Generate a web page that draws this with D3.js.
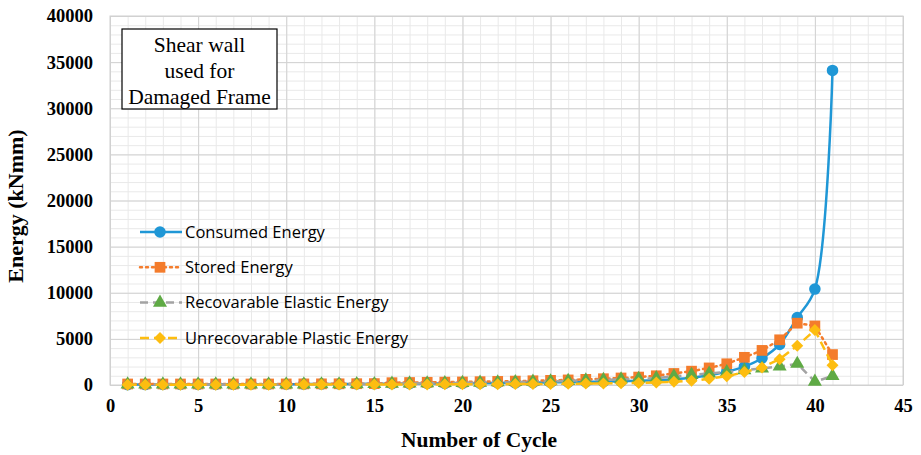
<!DOCTYPE html>
<html>
<head>
<meta charset="utf-8">
<script src="https://cdn.jsdelivr.net/npm/d3@7"></script>
<style>
  body { margin: 0; background: #fff; }
  #chart { width: 921px; height: 455px; }
</style>
</head>
<body>
<div id="chart"></div>
<script>
// values
const cycles = d3.range(1, 42);
const consumed = [40, 50, 55, 60, 65, 70, 75, 80, 85, 90, 95, 100, 110, 120, 130, 140, 150, 160, 170, 180,
  200, 220, 240, 260, 280, 300, 330, 360, 400, 450, 520, 620, 780, 1050, 1450, 2000, 2900, 4400, 7300, 10400, 34100];
const stored = [110, 110, 110, 110, 110, 110, 110, 110, 110, 115, 120, 125, 130, 140, 150, 250, 270, 290, 310, 330,
  360, 390, 420, 460, 500, 550, 610, 680, 760, 860, 1000, 1250, 1500, 1850, 2300, 3000, 3750, 4900, 6700, 6400, 3300];
const recoverable = [60, 60, 60, 60, 60, 60, 60, 60, 60, 65, 70, 75, 80, 90, 100, 150, 170, 190, 210, 230,
  260, 290, 320, 360, 400, 450, 500, 560, 620, 680, 750, 950, 1100, 1250, 1400, 1600, 1800, 2000, 2300, 360, 980];
const unrecoverable = [40, 40, 40, 40, 40, 40, 40, 40, 40, 45, 45, 50, 50, 50, 55, 60, 60, 65, 70, 75,
  80, 90, 100, 110, 120, 130, 150, 170, 200, 230, 280, 350, 450, 680, 950, 1400, 1900, 2800, 4250, 5950, 2150];

const xTicks = [0, 5, 10, 15, 20, 25, 30, 35, 40, 45];
const yTicks = [0, 5000, 10000, 15000, 20000, 25000, 30000, 35000, 40000];
const seriesNames = ["Consumed Energy", "Stored Energy", "Recovarable Elastic Energy", "Unrecovarable Plastic Energy"];
const noteLines = ["Shear wall", "used for", "Damaged Frame"];

function renderEnergyChart() {
  const margin = { top: 16, right: 18, bottom: 70, left: 110 },
    width = 921 - margin.left - margin.right,
    height = 455 - margin.top - margin.bottom;

  const svg = d3.select("#chart")
    .append("svg")
    .attr("width", width + margin.left + margin.right)
    .attr("height", height + margin.top + margin.bottom)
    .append("g")
    .attr("transform", `translate(${margin.left},${margin.top})`);

  const x = d3.scaleLinear().domain([0, 45]).range([0, width]);
  const y = d3.scaleLinear().domain([0, 40000]).range([height, 0]);

  // minor grid
  svg.append("g")
    .call(d3.axisLeft(y).tickValues(d3.range(0, 40001, 1000)).tickSize(-width).tickFormat(""))
    .call(g => g.select(".domain").remove())
    .selectAll("line").attr("stroke", "#e9e9e9");
  svg.append("g")
    .attr("transform", `translate(0,${height})`)
    .call(d3.axisBottom(x).tickValues(d3.range(0, 46, 1)).tickSize(-height).tickFormat(""))
    .call(g => g.select(".domain").remove())
    .selectAll("line").attr("stroke", "#e9e9e9");

  // major grid + labels
  const yAxis = svg.append("g")
    .call(d3.axisLeft(y).tickValues(yTicks).tickSize(-width).tickPadding(17).tickFormat(d3.format("d")));
  yAxis.select(".domain").remove();
  yAxis.selectAll("line").attr("stroke", "#d2d2d2");
  const xAxis = svg.append("g")
    .attr("transform", `translate(0,${height})`)
    .call(d3.axisBottom(x).tickValues(xTicks).tickSize(-height).tickPadding(14));
  xAxis.select(".domain").remove();
  xAxis.selectAll("line").attr("stroke", "#d2d2d2");
  [yAxis, xAxis].forEach(a => a.selectAll(".tick text")
    .style("font-family", "'Liberation Serif', 'Times New Roman', serif")
    .style("font-weight", "bold")
    .style("font-size", "18.5px")
    .attr("fill", "#000"));

  svg.append("rect")
    .attr("width", width).attr("height", height)
    .attr("fill", "none").attr("stroke", "#d0d0d0");

  // axis titles
  svg.append("text")
    .attr("transform", `translate(${-95},${190}) rotate(-90)`)
    .attr("text-anchor", "middle")
    .attr("dy", "0.35em")
    .style("font-family", "'Liberation Serif', serif")
    .style("font-weight", "bold").style("font-size", "22px")
    .text("Energy (kNmm)");
  svg.append("text")
    .attr("x", 369).attr("y", height + 62)
    .attr("text-anchor", "middle")
    .style("font-family", "'Liberation Serif', serif")
    .style("font-weight", "bold").style("font-size", "21.5px")
    .text("Number of Cycle");

  const series = [
    { name: seriesNames[0], values: consumed, color: "#1f97d6", dash: null, cap: "butt", curve: d3.curveCatmullRom, marker: "circle", mcolor: "#1f97d6" },
    { name: seriesNames[1], values: stored, color: "#f47c2c", dash: "2,4", cap: "round", curve: d3.curveLinear, marker: "square", mcolor: "#f47c2c" },
    { name: seriesNames[2], values: recoverable, color: "#a3a3a3", dash: "8,5", cap: "butt", curve: d3.curveLinear, marker: "triangle", mcolor: "#5faa45" },
    { name: seriesNames[3], values: unrecoverable, color: "#fdbd10", dash: "9,5", cap: "butt", curve: d3.curveLinear, marker: "diamond", mcolor: "#fdbd10" }
  ];

  const symbolOf = { circle: d3.symbolCircle, square: d3.symbolSquare, triangle: d3.symbolTriangle, diamond: d3.symbolSquare };
  const sizeOf = { circle: 105, square: 115, triangle: 85, diamond: 72 };
  const rot = m => (m === "diamond" ? " rotate(45)" : "");

  series.forEach(s => {
    const line = d3.line().x((d, i) => x(cycles[i])).y(d => y(d)).curve(s.curve);
    svg.append("path")
      .datum(s.values)
      .attr("d", line)
      .attr("fill", "none")
      .attr("stroke", s.color)
      .attr("stroke-width", 2.5)
      .attr("stroke-linecap", s.cap)
      .attr("stroke-dasharray", s.dash);
    svg.selectAll(null)
      .data(s.values)
      .enter()
      .append("path")
      .attr("transform", (d, i) => `translate(${x(cycles[i])},${y(d)})` + rot(s.marker))
      .attr("d", d3.symbol().type(symbolOf[s.marker]).size(sizeOf[s.marker]))
      .attr("fill", s.mcolor);
  });

  // legend
  const legend = svg.append("g").attr("transform", `translate(${30},${216})`);
  series.forEach((s, i) => {
    const g = legend.append("g").attr("transform", `translate(0,${i * 35.3})`);
    g.append("line")
      .attr("x1", 0).attr("x2", 42)
      .attr("stroke", s.color).attr("stroke-width", 2.5)
      .attr("stroke-linecap", s.cap)
      .attr("stroke-dasharray", s.dash);
    g.append("path")
      .attr("transform", "translate(20,0)" + rot(s.marker))
      .attr("d", d3.symbol().type(symbolOf[s.marker]).size(sizeOf[s.marker]))
      .attr("fill", s.mcolor);
    g.append("text")
      .attr("x", 45).attr("y", 0).attr("dy", "0.35em")
      .style("font-family", "'Open Sans', sans-serif")
      .style("font-size", "16.5px")
      .attr("fill", "#000")
      .text(s.name);
  });

  // note box
  const note = svg.append("g").attr("transform", `translate(${12},${13})`);
  note.append("rect")
    .attr("width", 155).attr("height", 80)
    .attr("fill", "#fff").attr("stroke", "#000").attr("stroke-width", 1.2);
  note.selectAll("text")
    .data(noteLines)
    .enter()
    .append("text")
    .attr("x", 77.5)
    .attr("y", (d, i) => 23 + i * 26)
    .attr("text-anchor", "middle")
    .style("font-family", "'Liberation Serif', 'Times New Roman', serif")
    .style("font-size", "21.5px")
    .text(d => d);
}

renderEnergyChart();
</script>
</body>
</html>
